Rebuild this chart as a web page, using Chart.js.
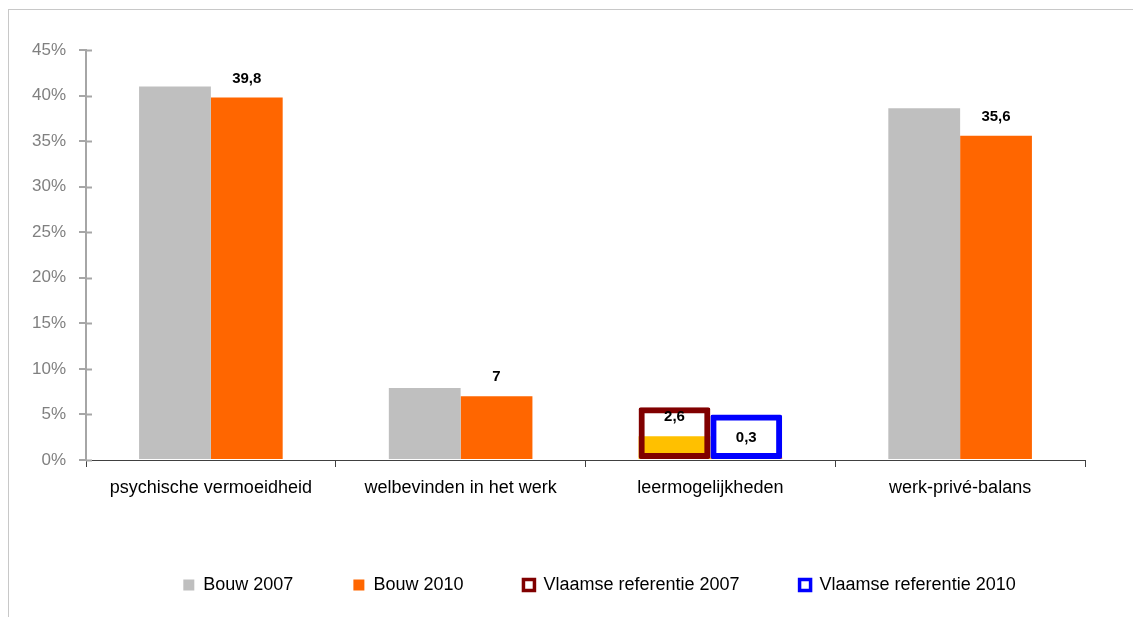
<!DOCTYPE html>
<html>
<head>
<meta charset="utf-8">
<script src="https://cdn.jsdelivr.net/npm/chart.js@4/dist/chart.umd.min.js"></script>
<style>
    html, body { margin: 0; padding: 0; background: #fff; overflow: hidden; }
    #wrap { position: relative; width: 1133px; height: 617px; }
    #frame { position: absolute; left: 8px; top: 9px; width: 1200px; height: 700px;
             border-left: 1px solid #c8c8c8; border-top: 1px solid #c8c8c8; }
    canvas { position: absolute; left: 0; top: 0; }
</style>
</head>
<body>
<div id="wrap">
    <div id="frame"></div>
    <canvas id="chart" width="1133" height="617"></canvas>
</div>
<script>
const categories = ["psychische vermoeidheid", "welbevinden in het werk", "leermogelijkheden", "werk-privé-balans"];
const bouw2007 = [41.0, 7.9, 2.6, 38.6];
const bouw2010 = [39.8, 7.0, 0.3, 35.6];
const vlaams2007 = [null, null, 5.8, null];
const vlaams2010 = [null, null, 5.0, null];
const labels2007 = ["", "", "2,6", ""];
const labels2010 = ["39,8", "7", "0,3", "35,6"];
const yMax = 45;
const yStep = 5;

const FONT = "'Liberation Sans', Arial, sans-serif";

// waarden boven de staven + streepjes binnenkant y-as
const barLabels = {
    id: "barLabels",
    afterDatasetsDraw(chart) {
        const ctx = chart.ctx;
        ctx.save();
        ctx.font = "bold 15px " + FONT;
        ctx.fillStyle = "#000";
        ctx.textAlign = "center";
        ctx.textBaseline = "middle";
        chart.data.datasets.forEach((ds, i) => {
            if (!ds.valueLabels) return;
            chart.getDatasetMeta(i).data.forEach((bar, j) => {
                const txt = ds.valueLabels[j];
                if (txt) ctx.fillText(txt, bar.x, bar.y - 19);
            });
        });
        const y = chart.scales.y;
        ctx.strokeStyle = "#a6a6a6";
        ctx.lineWidth = 2;
        y.ticks.forEach(t => {
            const py = Math.round(y.getPixelForValue(t.value)) + 0.5;
            ctx.beginPath();
            ctx.moveTo(y.right, py);
            ctx.lineTo(y.right + 6, py);
            ctx.stroke();
        });
        ctx.restore();
    },
    afterLayout(chart) {
        chart.legend.left += 14;
        chart.legend.right += 14;
    }
};

new Chart(document.getElementById("chart"), {
    type: "bar",
    data: {
        labels: categories,
        datasets: [
            // omlijnde referentie-staven eerst, zodat ze bovenop getekend worden
            { label: "Vlaamse referentie 2007", data: vlaams2007, stack: "a",
              backgroundColor: "rgba(0,0,0,0)", borderColor: "#800000", borderWidth: 6,
              borderSkipped: false, borderRadius: 2, outline: true, legendPos: 2 },
            { label: "Vlaamse referentie 2010", data: vlaams2010, stack: "b",
              backgroundColor: "rgba(0,0,0,0)", borderColor: "#0000ff", borderWidth: 6,
              borderSkipped: false, borderRadius: 2, outline: true, legendPos: 3 },
            { label: "Bouw 2007", data: bouw2007, stack: "a",
              backgroundColor: c => c.dataIndex === 2 ? "#ffc000" : "#bfbfbf",
              valueLabels: labels2007, legendPos: 0 },
            { label: "Bouw 2010", data: bouw2010, stack: "b",
              backgroundColor: "#ff6600", valueLabels: labels2010, legendPos: 1 }
        ]
    },
    options: {
        responsive: false,
        animation: false,
        events: [],
        layout: { padding: { top: 50, right: 48, bottom: 13, left: 0 } },
        datasets: { bar: { categoryPercentage: 0.575, barPercentage: 1 } },
        scales: {
            x: {
                offset: true,
                grid: { offset: true, drawOnChartArea: false, tickLength: 7, color: "#404040" },
                border: { color: "#404040", width: 1 },
                ticks: { color: "#000", font: { size: 18, family: FONT }, padding: 10 },
                afterFit(s) { s.height = 56; }
            },
            y: {
                stacked: false,
                min: 0, max: yMax,
                grid: { drawOnChartArea: false, tickLength: 7, color: "#a6a6a6", lineWidth: 2 },
                border: { color: "#a6a6a6", width: 2 },
                ticks: { stepSize: yStep, color: "#808080", font: { size: 17, family: FONT },
                         padding: 13, callback: v => v + "%" },
                afterFit(s) { s.width = 86; }
            }
        },
        plugins: {
            tooltip: { enabled: false },
            legend: {
                position: "bottom",
                fullSize: false,
                labels: {
                    boxWidth: 11, boxHeight: 11, padding: 60, color: "#000",
                    font: { size: 18, family: FONT },
                    sort: (a, b, data) => data.datasets[a.datasetIndex].legendPos - data.datasets[b.datasetIndex].legendPos,
                    generateLabels(chart) {
                        const items = Chart.defaults.plugins.legend.labels.generateLabels(chart);
                        items.forEach(it => {
                            const ds = chart.data.datasets[it.datasetIndex];
                            if (ds.outline) {
                                it.fillStyle = "#fff";
                                it.strokeStyle = ds.borderColor;
                                it.lineWidth = 3.5;
                            } else {
                                it.fillStyle = ds.label === "Bouw 2007" ? "#bfbfbf" : ds.backgroundColor;
                                it.lineWidth = 0;
                            }
                        });
                        return items;
                    }
                }
            }
        }
    },
    plugins: [barLabels]
});
</script>
</body>
</html>
